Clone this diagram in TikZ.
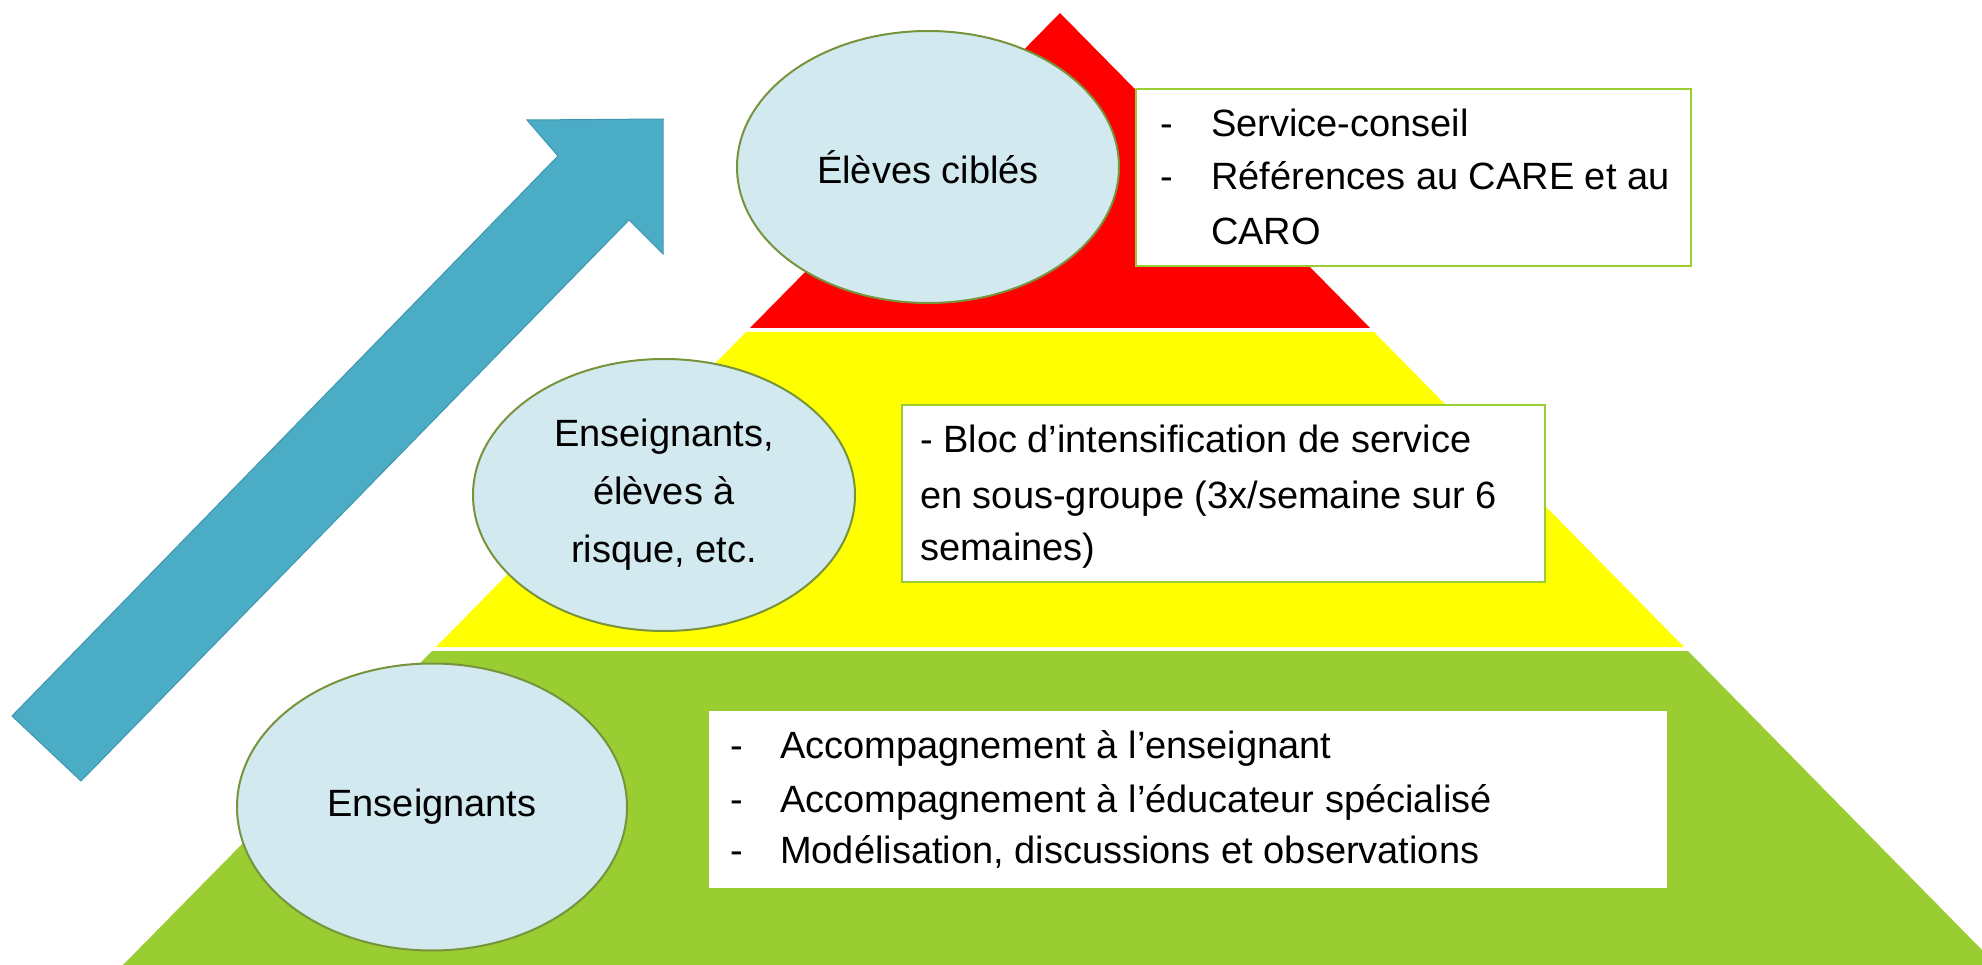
\documentclass[tikz,border=0pt]{standalone}
\usepackage{fontspec}
\setmainfont{Liberation Sans}
\usetikzlibrary{shapes.geometric}
\definecolor{redband}{HTML}{FF0000}
\definecolor{yellowband}{HTML}{FFFF00}
\definecolor{greenband}{HTML}{9ACD32}
\definecolor{ellfill}{HTML}{D3E9F0}
\definecolor{elldraw}{HTML}{77933C}
\definecolor{arrowfill}{HTML}{4BACC6}
\definecolor{arrowdraw}{HTML}{3F97AF}
\begin{document}
\begin{tikzpicture}[x=1pt,y=-1pt,
  band/.style={draw=none},
  oval/.style={ellipse, draw=elldraw, line width=2pt, fill=ellfill, inner sep=0pt,
     minimum width=382pt, minimum height=272pt, align=center,
     font=\fontsize{38}{58}\selectfont},
  infobox/.style={rectangle, draw=greenband, line width=2.5pt, fill=white, inner sep=0pt},
  txt/.style={anchor=base west, inner sep=0pt, font=\fontsize{38}{46}\selectfont},
  bigarrow/.style={fill=arrowfill, draw=arrowdraw, line width=1pt, line join=miter}
]
\useasboundingbox (0,0) rectangle (1982,965);

% pyramid bands
\fill[redband] (1060,13) -- (1370,328) -- (750,328) -- cycle;
\fill[yellowband] (746,332) -- (1374,332) -- (1684,647) -- (436,647) -- cycle;
\fill[greenband] (432,651) -- (1688,651) -- (1982,950) -- (1982,965) -- (123,965) -- cycle;

% arrow
\filldraw[bigarrow] (12,716) -- (558,156) -- (527,120) -- (663,119) -- (663,254) -- (629,220) -- (81,781) -- cycle;

% ellipses
\node[oval] (e1) at (928,167) {Élèves ciblés};
\node[oval] (e2) at (664,495) {Enseignants,\\élèves à\\risque, etc.};
\node[oval, minimum width=390pt, minimum height=287pt] (e3) at (432,807) {Enseignants};

% boxes
\node[infobox, minimum width=555pt, minimum height=177pt] (b1) at (1413.5,177.5) {};
\node[infobox, minimum width=643pt, minimum height=177pt] (b2) at (1223.5,493.5) {};
\node[infobox, draw=white, line width=0pt, minimum width=957pt, minimum height=176pt] (b3) at (1187.5,799) {};

% top box text
\node[txt] (t1d) at (1160,137) {-};
\node[txt] (t1a) at (1211,137) {Service-conseil};
\node[txt] (t2d) at (1160,190) {-};
\node[txt] (t2a) at (1211,190) {Références au CARE et au};
\node[txt] (t3a) at (1211,245) {CARO};

% middle box text
\node[txt] (m1) at (920,453) {- Bloc d’intensification de service};
\node[txt] (m2) at (920,508) {en sous-groupe (3x/semaine sur 6};
\node[txt] (m3) at (920,560) {semaines)};

% bottom box text
\node[txt] (l1d) at (730,758) {-};
\node[txt] (l1a) at (780,758) {Accompagnement à l’enseignant};
\node[txt] (l2d) at (730,812) {-};
\node[txt] (l2a) at (780,812) {Accompagnement à l’éducateur spécialisé};
\node[txt] (l3d) at (730,863) {-};
\node[txt] (l3a) at (780,863) {Modélisation, discussions et observations};
\end{tikzpicture}
\end{document}
